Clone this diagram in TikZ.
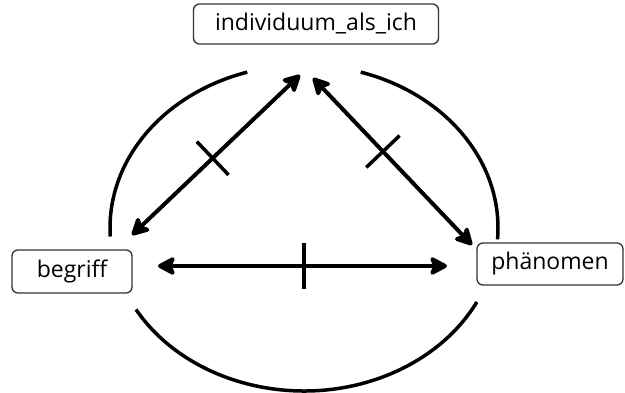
\documentclass[tikz,border=0pt]{standalone}
\usepackage{fontspec}
\setmainfont{Open Sans}
\usetikzlibrary{arrows.meta,positioning,calc,decorations.markings}

\begin{document}
\begin{tikzpicture}[
    x=1pt, y=1pt,
    box/.style={rectangle, draw=black!80, line width=1.3pt, rounded corners=6pt, minimum height=40pt, inner sep=0pt, align=center, font=\fontsize{23}{26}\selectfont},
    arrow/.style={{Stealth[length=21pt,width=22pt,inset=5pt,round]}-{Stealth[length=21pt,width=22pt,inset=5pt,round]}, line width=4pt},
    ring/.style={line width=3.5pt},
    crossmark/.style={postaction={decorate}, decoration={markings, mark=at position #1 with {\draw[-, line width=3.5pt] (0,-23) -- (0,23);}}},
]
\useasboundingbox (0,0) rectangle (625,393);

% Concepts
\node[box, minimum width=245pt] (ich) at (316,369) {individuum\_als\_ich};
\node[box, minimum width=120pt, minimum height=43pt] (begriff) at (72,121.5) {begriff};
\node[box, minimum width=146pt, minimum height=42pt] (phaen) at (550,129) {phänomen};

% Ring around the triangle
\coordinate (mid) at (304,165);
\draw[ring] ($(mid)+(107:194 and 163)$) arc[start angle=107, end angle=183, x radius=194, y radius=163];
\draw[ring] ($(mid)+(-4:194 and 163)$) arc[start angle=-4, end angle=73, x radius=194, y radius=163];
\draw[ring] ($(mid)+(210:194 and 163)$) arc[start angle=210, end angle=333, x radius=194, y radius=163];

% Arrow ends
\coordinate (b_up) at (132,158);
\coordinate (i_left) at (300,318);
\coordinate (i_right) at (313,315);
\coordinate (p_up) at (472,148);
\coordinate (b_right) at (158,127);
\coordinate (p_left) at (447,127);

% Relations
\draw[arrow, crossmark=0.48] (b_up) -- (i_left);
\draw[arrow, crossmark=0.44] (i_right) -- (p_up);
\draw[arrow, crossmark=0.505] (b_right) -- (p_left);

\end{tikzpicture}
\end{document}
